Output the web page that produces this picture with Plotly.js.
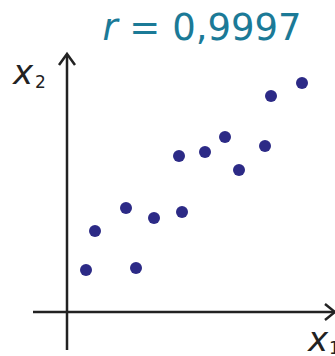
<!DOCTYPE html>
<html>
<head>
<meta charset="utf-8">
<script src="https://cdn.plot.ly/plotly-3.0.1.min.js"></script>
<style>
  html, body { margin: 0; padding: 0; background: #fff; }
  #chart { width: 335px; height: 356px; }
</style>
</head>
<body>
<div id="chart"></div>
<script>
// scatter of x1 vs x2 (arbitrary units)
var x1 = [0.95, 1.4, 2.95, 3.45, 4.35, 5.75, 5.6, 6.9, 7.9, 8.6, 9.9, 10.2, 11.75];
var x2 = [2.1, 4.05, 5.2, 2.2, 4.7, 5.0, 7.8, 8.0, 8.75, 7.1, 8.3, 10.8, 11.45];
var titleText = '<i>r</i> = 0,9997';

var axisColor = '#222';
var font = 'DejaVu Sans, Verdana, sans-serif';

var axisLine = { color: axisColor, width: 2.5 };

Plotly.newPlot('chart', [
  {
    x: x1,
    y: x2,
    mode: 'markers',
    type: 'scatter',
    marker: { color: '#2c2a86', size: 12 },
    hoverinfo: 'skip'
  }
], {
  width: 335,
  height: 356,
  margin: { l: 0, r: 0, t: 0, b: 0 },
  paper_bgcolor: '#fff',
  plot_bgcolor: '#fff',
  showlegend: false,
  title: {
    text: titleText,
    font: { family: font, size: 37, color: '#1b7a97' },
    x: 0.603, xanchor: 'center',
    y: 0.925, yanchor: 'middle'
  },
  xaxis: { range: [-3.35, 13.4], visible: false, fixedrange: true },
  yaxis: { range: [-2.2, 15.6], visible: false, fixedrange: true },
  shapes: [
    // vertical axis with open arrow head
    { type: 'line', x0: 0, x1: 0, y0: -1.9, y1: 12.85, line: axisLine },
    { type: 'path', path: 'M -0.4 12.35 L 0 12.9 L 0.4 12.35', line: axisLine },
    // horizontal axis with open arrow head
    { type: 'line', x0: -1.7, x1: 13.4, y0: 0, y1: 0, line: axisLine },
    { type: 'path', path: 'M 12.9 0.4 L 13.4 0 L 12.9 -0.4', line: axisLine }
  ],
  annotations: [
    { x: -2.2, y: 12.0, text: '<i>x</i>', showarrow: false,
      font: { family: font, size: 34, color: '#222' } },
    { x: -1.35, y: 11.5, text: '2', showarrow: false,
      font: { family: font, size: 17, color: '#222' } },
    { x: 12.55, y: -1.35, text: '<i>x</i>', showarrow: false,
      font: { family: font, size: 34, color: '#222' } },
    { x: 13.35, y: -1.8, text: '1', showarrow: false,
      font: { family: font, size: 17, color: '#222' } }
  ]
}, { displayModeBar: false, staticPlot: true });
</script>
</body>
</html>
